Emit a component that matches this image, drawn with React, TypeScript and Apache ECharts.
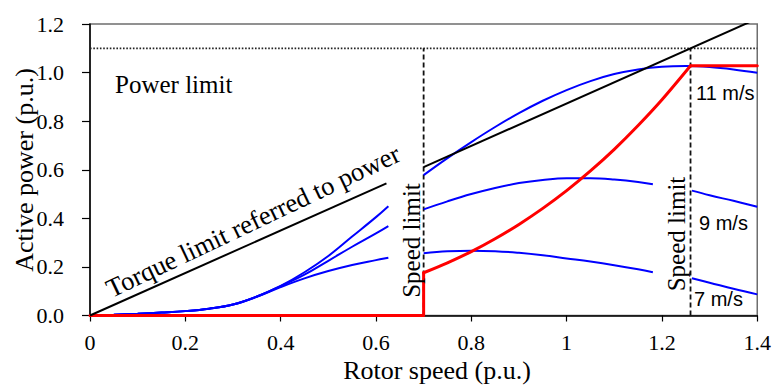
import React, { useEffect, useRef } from "react";
import * as echarts from "echarts";

// ---- data ----
const xTicks = [0, 0.2, 0.4, 0.6, 0.8, 1, 1.2, 1.4];
const yTicks = [0, 0.2, 0.4, 0.6, 0.8, 1.0, 1.2];

const powerLimit = 1.1;
const speedLimits = [0.7, 1.26];

// torque limit referred to power (two segments, gap for label)
const torqueLeftX = [0, 0.622];
const torqueLeftY = [0, 0.544];
const torqueRightX = [0.7, 1.4];
const torqueRightY = [0.611, 1.222];

// low-speed region (shared speeds)
const lowSpeed = [0, 0.05, 0.1, 0.15, 0.2, 0.25, 0.3, 0.35, 0.4, 0.45, 0.5, 0.55, 0.6, 0.626];
const p11Low = [0, 0.003, 0.007, 0.012, 0.018, 0.028, 0.045, 0.078, 0.122, 0.178, 0.245, 0.325, 0.405, 0.45];
const p9Low = [0, 0.003, 0.007, 0.012, 0.018, 0.028, 0.045, 0.078, 0.121, 0.168, 0.225, 0.283, 0.338, 0.368];
const p7Low = [0, 0.003, 0.007, 0.012, 0.018, 0.028, 0.045, 0.077, 0.117, 0.153, 0.183, 0.208, 0.228, 0.238];

// mid region speeds 0.7 .. 1.4
const midSpeed = [0.7, 0.75, 0.8, 0.85, 0.9, 0.95, 1.0, 1.05, 1.1, 1.15, 1.2, 1.25, 1.3, 1.35, 1.4];
const p11Mid = [0.578, 0.648, 0.714, 0.776, 0.833, 0.884, 0.928, 0.965, 0.994, 1.013, 1.024, 1.027, 1.023, 1.013, 0.999];

const p9MidSpeed = [0.7, 0.75, 0.8, 0.85, 0.9, 0.95, 1.0, 1.05, 1.1, 1.15, 1.181];
const p9Mid = [0.437, 0.47, 0.5, 0.525, 0.545, 0.558, 0.565, 0.565, 0.56, 0.55, 0.54];
const p7Mid = [0.256, 0.264, 0.267, 0.265, 0.258, 0.248, 0.235, 0.222, 0.207, 0.19, 0.178];

const highSpeed = [1.263, 1.3, 1.35, 1.4];
const p9High = [0.514, 0.495, 0.472, 0.448];
const p7High = [0.153, 0.135, 0.11, 0.087];

// operating trajectory (red): idle, jump at first speed limit, MPPT curve, power plateau
const redIdleSpeed = [0, 0.7, 0.7];
const redIdlePower = [0, 0, 0.176];
const redCurveSpeed = [0.7, 0.75, 0.8, 0.85, 0.9, 0.95, 1.0, 1.05, 1.1, 1.15, 1.2, 1.26];
const redCurvePower = [0.176, 0.217, 0.263, 0.316, 0.375, 0.441, 0.514, 0.595, 0.684, 0.782, 0.888, 1.028];
const redFlatSpeed = [1.26, 1.4];
const redFlatPower = [1.028, 1.028];

const zip = (xs: number[], ys: number[]) => xs.map((x, i) => [x, ys[i]]);

const SERIF = '"Liberation Serif", "Times New Roman", serif';
const SANS = '"Liberation Sans", Arial, sans-serif';
const BLUE = "#0000ff";
const RED = "#ff0000";

export default function App() {
  const ref = useRef<HTMLDivElement>(null);
  useEffect(() => {
    document.body.style.margin = "0";
    if (!ref.current) return;
    const chart = echarts.init(ref.current, undefined, { renderer: "svg" });

    const blue = (name: string, data: number[][]) => ({
      name,
      type: "line",
      data,
      showSymbol: false,
      smooth: 0.4,
      lineStyle: { color: BLUE, width: 2 },
      z: 3,
    });

    const red = (name: string, data: number[][], smooth: number | boolean) => ({
      name,
      type: "line",
      data,
      showSymbol: false,
      smooth,
      lineStyle: { color: RED, width: 3, cap: "round", join: "round" },
      z: 4,
    });

    const txt = (
      text: string,
      x: number,
      y: number,
      family: string,
      size: number,
      align: string,
      rotation = 0
    ) => ({
      type: "text",
      x,
      y,
      rotation,
      z: 100,
      style: {
        text,
        fontFamily: family,
        fontSize: size,
        fill: "#000",
        align,
        verticalAlign: "middle",
        textAlign: align,
        textVerticalAlign: "middle",
      },
    });

    chart.setOption({
      animation: false,
      grid: {
        left: 90,
        right: 16,
        top: 24,
        bottom: 69.5,
        show: true,
        borderColor: "#6e6e6e",
        borderWidth: 1.5,
        backgroundColor: "transparent",
      },
      xAxis: {
        type: "value",
        min: xTicks[0],
        max: xTicks[xTicks.length - 1],
        interval: 0.2,
        axisLine: { show: true, lineStyle: { color: "#000", width: 1.5 } },
        axisTick: { show: true, inside: false, length: 6, lineStyle: { color: "#000", width: 1.2 } },
        splitLine: { show: false },
        axisLabel: {
          margin: 16,
          color: "#000",
          fontFamily: SERIF,
          fontSize: 22,
          formatter: (v: number) => String(parseFloat(v.toFixed(1))),
        },
      },
      yAxis: {
        type: "value",
        min: yTicks[0],
        max: yTicks[yTicks.length - 1],
        interval: 0.2,
        axisLine: { show: true, lineStyle: { color: "#000", width: 1.5 } },
        axisTick: { show: true, inside: false, length: 8, lineStyle: { color: "#000", width: 1.2 } },
        splitLine: { show: false },
        axisLabel: {
          margin: 26,
          color: "#000",
          fontFamily: SERIF,
          fontSize: 22,
          formatter: (v: number) => v.toFixed(1),
        },
      },
      series: [
        {
          name: "Power limit",
          type: "line",
          data: [
            [xTicks[0], powerLimit],
            [xTicks[xTicks.length - 1], powerLimit],
          ],
          showSymbol: false,
          lineStyle: { color: "#222", width: 1.8, type: [1.6, 1.7] },
          z: 2,
        },
        ...speedLimits.map((s, i) => ({
          name: "Speed limit " + i,
          type: "line",
          data: [
            [s, 0],
            [s, powerLimit],
          ],
          showSymbol: false,
          lineStyle: { color: "#111", width: 1.8, type: [5, 3] },
          z: 2,
        })),
        blue("11 low", zip(lowSpeed, p11Low)),
        blue("9 low", zip(lowSpeed, p9Low)),
        blue("7 low", zip(lowSpeed, p7Low)),
        blue("11 mid", zip(midSpeed, p11Mid)),
        blue("9 mid", zip(p9MidSpeed, p9Mid)),
        blue("7 mid", zip(p9MidSpeed, p7Mid)),
        blue("9 high", zip(highSpeed, p9High)),
        blue("7 high", zip(highSpeed, p7High)),
        red("Operating idle", zip(redIdleSpeed, redIdlePower), false),
        red("Operating MPPT", zip(redCurveSpeed, redCurvePower), 0.3),
        red("Operating rated", zip(redFlatSpeed, redFlatPower), false),
        {
          name: "Torque left",
          type: "line",
          data: zip(torqueLeftX, torqueLeftY),
          showSymbol: false,
          lineStyle: { color: "#000", width: 2 },
          z: 5,
        },
        {
          name: "Torque right",
          type: "line",
          data: zip(torqueRightX, torqueRightY),
          showSymbol: false,
          clip: true,
          lineStyle: { color: "#000", width: 2 },
          z: 5,
        },
      ],
      graphic: [
        txt("Power limit", 115, 84, SERIF, 25, "left"),
        txt("Torque limit referred to power", 253, 221, SERIF, 26.5, "center", (25.4 * Math.PI) / 180),
        txt("Speed limit", 411, 240.5, SERIF, 25, "center", Math.PI / 2),
        txt("Speed limit", 676, 234, SERIF, 25, "center", Math.PI / 2),
        txt("11 m/s", 696, 93, SANS, 20, "left"),
        txt("9 m/s", 699, 223, SANS, 20, "left"),
        txt("7 m/s", 694, 299, SANS, 20, "left"),
        txt("Active power (p.u.)", 24, 170, SERIF, 26, "center", Math.PI / 2),
        txt("Rotor speed (p.u.)", 437, 370, SERIF, 26, "center"),
      ],
    });
    return () => chart.dispose();
  }, []);
  return <div ref={ref} style={{ width: 774, height: 385 }} />;
}
